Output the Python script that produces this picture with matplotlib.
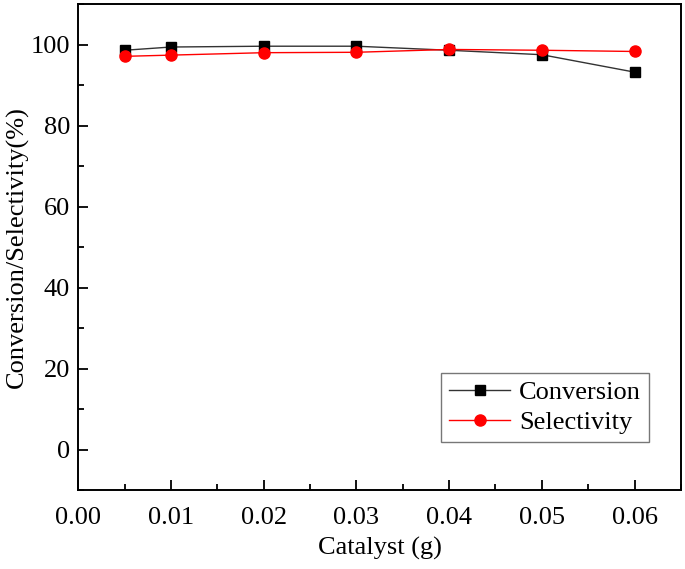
import matplotlib
matplotlib.use("Agg")
import matplotlib.pyplot as plt
from matplotlib.ticker import MultipleLocator

# ======================================================
# DATA
# ======================================================
catalyst = [0.005, 0.01, 0.02, 0.03, 0.04, 0.05, 0.06]
conversion = [98.6, 99.4, 99.6, 99.6, 98.6, 97.5, 93.2]
selectivity = [97.1, 97.4, 98.0, 98.1, 98.8, 98.6, 98.3]

# ======================================================
# STYLE
# ======================================================
plt.rcParams["font.family"] = ["Liberation Serif", "DejaVu Serif"]
FS = 19

# ======================================================
# FIGURE
# ======================================================
fig = plt.figure(figsize=(6.85, 5.69), dpi=100)
ax = fig.add_axes([0.1143, 0.1388, 0.8797, 0.854])

ax.plot(catalyst, conversion, color="#333333", lw=1.0, marker="s",
        markersize=7, markerfacecolor="black", markeredgecolor="black",
        label="Conversion")
ax.plot(catalyst, selectivity, color="red", lw=1.0, marker="o",
        markersize=8, markerfacecolor="red", markeredgecolor="red",
        label="Selectivity")

ax.set_xlim(0, 0.065)
ax.set_ylim(-10, 110)
ax.xaxis.set_major_locator(MultipleLocator(0.01))
ax.xaxis.set_minor_locator(MultipleLocator(0.005))
ax.yaxis.set_major_locator(MultipleLocator(20))
ax.yaxis.set_minor_locator(MultipleLocator(10))
ax.xaxis.set_major_formatter(lambda v, p: f"{v:.2f}")

ax.tick_params(which="both", direction="in", top=False, right=False,
               labelsize=FS, width=1.3)
ax.tick_params(which="major", length=7)
ax.tick_params(which="minor", length=4)
ax.tick_params(axis="x", which="major", pad=12)
ax.tick_params(axis="y", which="major", pad=6)
for sp in ax.spines.values():
    sp.set_linewidth(1.4)

ax.set_xlabel("Catalyst (g)", fontsize=FS, labelpad=6)
ax.set_ylabel("Conversion/Selectivity(%)", fontsize=FS, labelpad=1)

leg = ax.legend(loc="lower right", bbox_to_anchor=(0.947, 0.099),
                fontsize=FS, frameon=True, fancybox=False,
                edgecolor="#555555", handlelength=2.3, borderpad=0.3,
                labelspacing=0.25, handletextpad=0.35, borderaxespad=0)
leg.get_frame().set_linewidth(1.0)

# ======================================================
# SAVE
# ======================================================
fig.savefig("out.png", dpi=100)
plt.close(fig)
